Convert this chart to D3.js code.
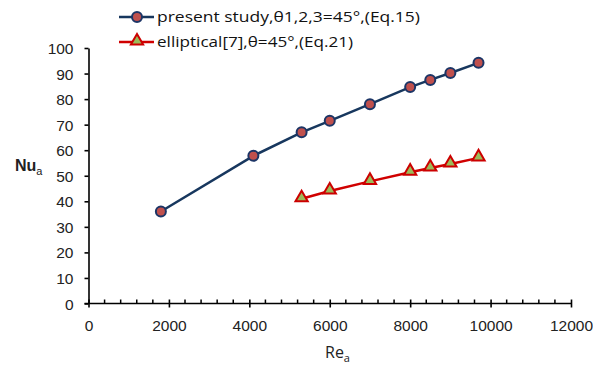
<!DOCTYPE html>
<html><head><meta charset="utf-8">
<script src="https://cdn.jsdelivr.net/npm/d3@7"></script>
<style>body{margin:0;background:#fff}svg{display:block}</style>
</head><body>
<svg id="c" width="593" height="378"></svg>
<script>
const reValues = [1800, 4100, 5300, 6000, 7000, 8000, 8500, 9000, 9700];
const presentNu = [36, 57.8, 67, 71.5, 78, 84.7, 87.5, 90.2, 94.2];
const ellRe = [5300, 6000, 7000, 8000, 8500, 9000, 9700];
const ellipticalNu = [41, 44, 47.8, 51.4, 53, 54.6, 57];
const xTicks = [0, 2000, 4000, 6000, 8000, 10000, 12000];
const yTicks = [0, 10, 20, 30, 40, 50, 60, 70, 80, 90, 100];
const seriesNames = ["present study,θ1,2,3=45°,(Eq.15)", "elliptical[7],θ=45°,(Eq.21)"];

const svg = d3.select("#c");
const x = d3.scaleLinear().domain([0, 12000]).range([88.5, 571]);
const y = d3.scaleLinear().domain([0, 100]).range([303.5, 48]);

// minor x ticks
const minor = d3.range(0, 12001, 400).filter(v => v % 2000 !== 0);
svg.append("g").selectAll("line").data(minor).join("line")
  .attr("x1", d => x(d)).attr("x2", d => x(d))
  .attr("y1", y(0)).attr("y2", y(0) - 4)
  .attr("stroke", "#000").attr("stroke-width", 1.5);

const xAxis = svg.append("g").attr("transform", `translate(0,${y(0)})`)
  .call(d3.axisBottom(x).tickValues(xTicks).tickFormat(d3.format("d")).tickSize(4).tickSizeOuter(0));
xAxis.selectAll(".tick line").attr("y1", -4).attr("y2", 4);
xAxis.select(".domain").attr("d", `M${x(0)-4},0H${x(12000)}`);
xAxis.selectAll("text").attr("y", 22).attr("dy", "0.35em");

const yAxis = svg.append("g").attr("transform", `translate(${x(0)},0)`)
  .call(d3.axisLeft(y).tickValues(yTicks).tickSize(4).tickSizeOuter(0));
yAxis.selectAll("text").attr("x", -15).attr("dy", "0.36em");

svg.selectAll(".domain, .tick line").attr("stroke", "#000").attr("stroke-width", 1.6);
svg.selectAll(".tick text").attr("font-family", "Liberation Sans, Arial, sans-serif")
  .attr("font-size", 15.5).attr("fill", "#222");

const line = d3.line().x(d => x(d[0])).y(d => y(d[1]));
const p1 = reValues.map((r, i) => [r, presentNu[i]]);
const p2 = ellRe.map((r, i) => [r, ellipticalNu[i]]);

svg.append("path").datum(p1).attr("d", line).attr("fill", "none")
  .attr("stroke", "#17375e").attr("stroke-width", 2.5);
svg.append("path").datum(p2).attr("d", line).attr("fill", "none")
  .attr("stroke", "#d00000").attr("stroke-width", 2.5);

const tri = d3.symbol().type(d3.symbolTriangle).size(65);
svg.append("g").selectAll("circle").data(p1).join("circle")
  .attr("cx", d => x(d[0])).attr("cy", d => y(d[1])).attr("r", 5)
  .attr("fill", "#c0504d").attr("stroke", "#1c3566").attr("stroke-width", 2);
svg.append("g").selectAll("path").data(p2).join("path")
  .attr("d", tri).attr("transform", d => `translate(${x(d[0])},${y(d[1]) - 1})`)
  .attr("fill", "#9bbb59").attr("stroke", "#cc0000").attr("stroke-width", 2);

// legend
const lg = svg.append("g");
lg.append("line").attr("x1", 119).attr("x2", 154).attr("y1", 17).attr("y2", 17)
  .attr("stroke", "#17375e").attr("stroke-width", 2.5);
lg.append("circle").attr("cx", 137).attr("cy", 17).attr("r", 5)
  .attr("fill", "#c0504d").attr("stroke", "#1c3566").attr("stroke-width", 2);
lg.append("line").attr("x1", 119).attr("x2", 154).attr("y1", 42).attr("y2", 42)
  .attr("stroke", "#d00000").attr("stroke-width", 2.5);
lg.append("path").attr("d", tri).attr("transform", "translate(137,41)")
  .attr("fill", "#9bbb59").attr("stroke", "#cc0000").attr("stroke-width", 2);
lg.selectAll("text").data(seriesNames).join("text")
  .attr("x", 157).attr("y", (d, i) => 22 + i * 25)
  .attr("font-family", "Open Sans, sans-serif").attr("font-size", 14.5).attr("fill", "#111")
  .attr("textLength", (d, i) => i === 0 ? 263 : 196).attr("lengthAdjust", "spacingAndGlyphs")
  .text(d => d);

// axis titles
const nu = svg.append("text").attr("x", 15).attr("y", 171)
  .attr("font-family", "Liberation Sans, Arial, sans-serif").attr("font-size", 16).attr("font-weight", "bold").attr("fill", "#222");
nu.append("tspan").text("Nu");
nu.append("tspan").attr("font-size", 11).attr("dy", 4).attr("font-weight", "normal").text("a");

const re = svg.append("text").attr("x", 325).attr("y", 358)
  .attr("font-family", "Open Sans, sans-serif").attr("font-size", 16).attr("fill", "#222");
re.append("tspan").text("Re");
re.append("tspan").attr("font-size", 11).attr("dy", 4).text("a");
</script>
</body></html>
